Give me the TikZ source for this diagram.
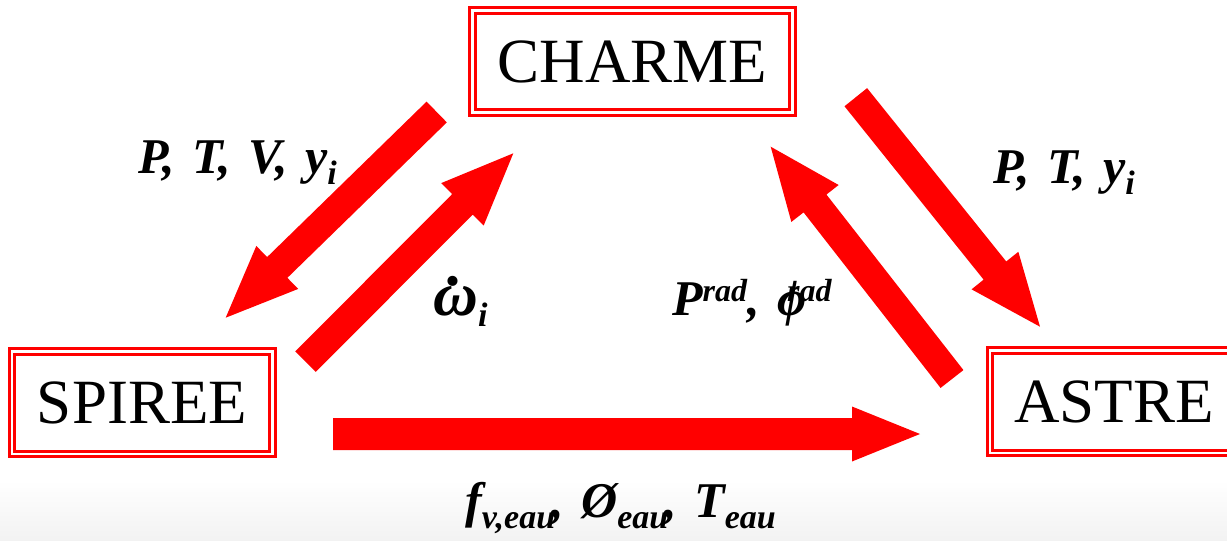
\documentclass[tikz,border=0pt]{standalone}
\usepackage{fontspec}
\setmainfont{Liberation Serif}
\usetikzlibrary{calc}
\tikzset{
  box/.style={draw=red, double=white, line width=3pt, double distance=2.5pt,
    fill=white, inner sep=0pt, font=\fontsize{63}{70}\selectfont},
  lbl/.style={anchor=base west, inner sep=0pt, font=\fontsize{50}{54}\selectfont\bfseries\itshape},
  arrowfill/.style={fill=red}
}
\newcommand\sbs[1]{\raisebox{-0.22em}{\fontsize{34}{36}\selectfont #1}}
\newcommand\sps[1]{\raisebox{0.27em}{\fontsize{32}{34}\selectfont #1}}
\newcommand\cs{,\hspace{0.35em}}
% name, tail, tip, half shaft, half head, head length
\newcommand\fatarrow[6]{%
  \coordinate (#1b) at ($(#3)!#6!(#2)$);
  \fill[arrowfill] ($(#2)!#4!90:(#3)$) -- ($(#1b)!#4!90:(#3)$) -- ($(#1b)!#5!90:(#3)$)
    -- (#3) -- ($(#1b)!#5!-90:(#3)$) -- ($(#1b)!#4!-90:(#3)$) -- ($(#2)!#4!-90:(#3)$) -- cycle;
}
\begin{document}
\begin{tikzpicture}[x=1pt,y=-1pt]
\useasboundingbox (0,0) rectangle (1227,541);
\fill[white] (0,0) rectangle (1227,541);
\shade[top color=white,bottom color=black!5] (0,480) rectangle (1227,541);

\node[box, minimum width=320pt, minimum height=102pt] (charme) at (632.5,61.5) {CHARME};
\node[box, minimum width=260.5pt, minimum height=102.5pt] (spiree) at (142,402.5) {SPIREE};
\node[box, minimum width=247.5pt, minimum height=102.5pt] (astre) at (1113.9,401.5) {ASTRE};

\coordinate (a1s) at (436.7,112);   \coordinate (a1e) at (225.7,317.7);
\coordinate (a2s) at (305.5,361.7); \coordinate (a2e) at (513.3,153.3);
\coordinate (a3s) at (855.8,97.2);  \coordinate (a3e) at (1040,326.7);
\coordinate (a4s) at (952,379);     \coordinate (a4e) at (770.7,146.7);
\coordinate (a5s) at (333,434);     \coordinate (a5e) at (920,434);
\fatarrow{a1}{a1s}{a1e}{14.5pt}{30pt}{72pt}
\fatarrow{a2}{a2s}{a2e}{14.5pt}{30pt}{72pt}
\fatarrow{a3}{a3s}{a3e}{14.5pt}{30pt}{72pt}
\fatarrow{a4}{a4s}{a4e}{14.5pt}{30pt}{72pt}
\fatarrow{a5}{a5s}{a5e}{16pt}{27.5pt}{68pt}

\node[lbl] (l1) at (138,173) {P\cs T\cs V\cs y\sbs{i}};
\node[lbl] (l2) at (993,183) {P\cs T\cs y\sbs{i}};
\node[lbl] (l3) at (433,315) {{\fontsize{62}{66}\selectfont\ooalign{ω\cr\hidewidth\raisebox{30pt}{.}\hidewidth\cr}}\sbs{i}};
\node[lbl] (l4) at (672,315) {P\sps{rad}\cs ϕ\kern-19pt\sps{rad}};
\node[lbl] (l5) at (465,517) {f\sbs{v,eau}\kern-4pt\cs Ø\sbs{eau}\kern-4pt\cs T\sbs{eau}};
\end{tikzpicture}
\end{document}
